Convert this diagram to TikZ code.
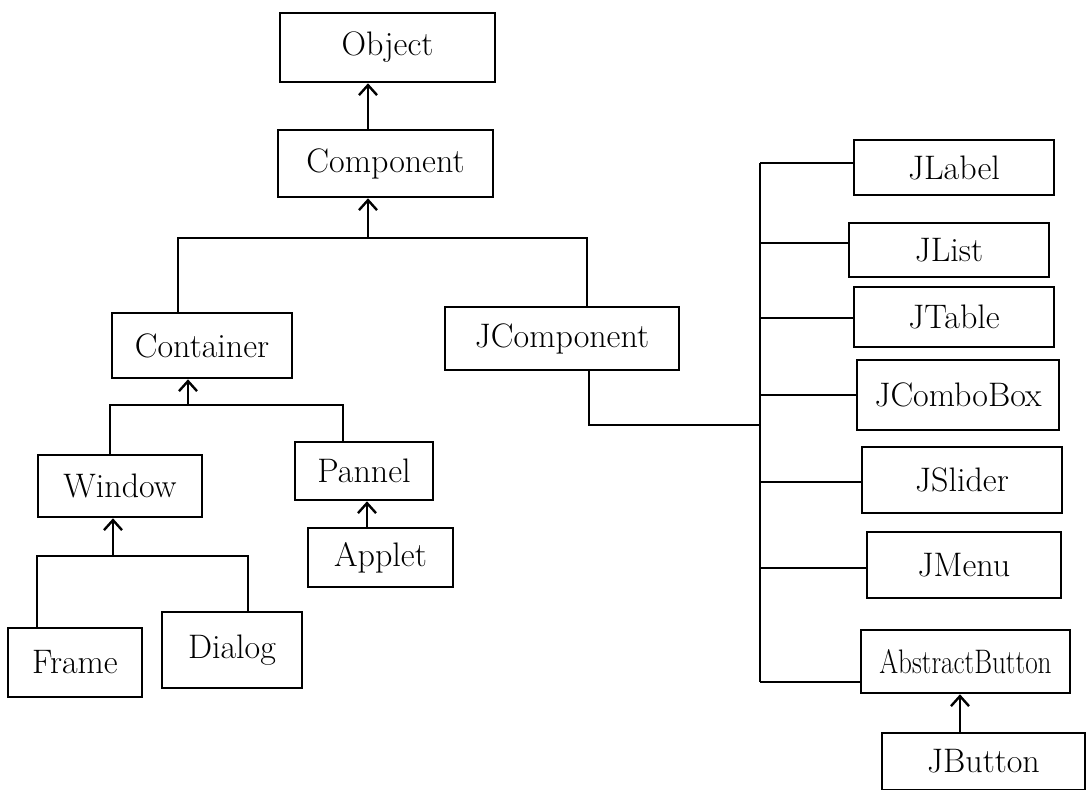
\documentclass[tikz,border=0pt]{standalone}
\usetikzlibrary{arrows.meta}
\begin{document}
\begin{tikzpicture}[x=0.5pt,y=-0.5pt,
  cls/.style={draw, line width=1.3pt, inner sep=0pt, font=\fontsize{17}{20}\selectfont},
  link/.style={line width=1.3pt},
  inh/.style={line width=1.3pt, -{Straight Barb[length=5pt,width=9pt,line width=1.2pt]}}]
\useasboundingbox (0,0) rectangle (1088,789);
\fill[white] (0,0) rectangle (1088,789);
% boxes
\node[cls, minimum width=107.5pt, minimum height=34.5pt] (Object) at (387.5,47.5) {Object};
\node[cls, minimum width=107.5pt, minimum height=33.5pt] (Component) at (385.5,163.5) {Component};
\node[cls, minimum width=90pt, minimum height=32.5pt] (Container) at (202,345.5) {Container};
\node[cls, minimum width=117pt, minimum height=31.5pt] (JComponent) at (562,338.5) {JComponent};
\node[cls, minimum width=82pt, minimum height=31pt] (Window) at (120,486) {Window};
\node[cls, minimum width=69pt, minimum height=29pt] (Pannel) at (364,471) {Pannel};
\node[cls, minimum width=72.5pt, minimum height=29.5pt] (Applet) at (380.5,557.5) {Applet};
\node[cls, minimum width=67pt, minimum height=34.5pt] (Frame) at (75,662.5) {Frame};
\node[cls, minimum width=70pt, minimum height=38pt] (Dialog) at (232,650) {Dialog};
\node[cls, minimum width=100pt, minimum height=27.5pt] (JLabel) at (954,167.5) {JLabel};
\node[cls, minimum width=100pt, minimum height=27pt] (JList) at (949,250) {JList};
\node[cls, minimum width=100pt, minimum height=30pt] (JTable) at (954,317) {JTable};
\node[cls, minimum width=101pt, minimum height=35pt] (JComboBox) at (958,395) {JComboBox};
\node[cls, minimum width=100pt, minimum height=33pt] (JSlider) at (962,480) {JSlider};
\node[cls, minimum width=97pt, minimum height=33pt] (JMenu) at (964,565) {JMenu};
\node[cls, minimum width=104.5pt, minimum height=31.5pt] (AbstractButton) at (965.5,661.5) {\scalebox{0.8}[1]{AbstractButton}};
\node[cls, minimum width=101.5pt, minimum height=28.5pt] (JButton) at (983.5,761.5) {JButton};
% junction coordinates
\coordinate (a0) at (368,0);
\coordinate (J1) at (368,238);
\coordinate (L1) at (178,238);
\coordinate (R1) at (587,238);
\coordinate (J2) at (188,405);
\coordinate (L2) at (110,405);
\coordinate (R2) at (343,405);
\coordinate (a1) at (367,0);
\coordinate (J3) at (113,556);
\coordinate (L3) at (37,556);
\coordinate (R3) at (248,556);
\coordinate (c1) at (589,425);
\coordinate (T0) at (760,425);
\coordinate (T1) at (760,163);
\coordinate (T2) at (760,243);
\coordinate (T3) at (760,318);
\coordinate (T4) at (760,395);
\coordinate (T5) at (760,482);
\coordinate (T6) at (760,568);
\coordinate (T7) at (760,682);
\coordinate (a2) at (960,0);
% inheritance arrows
\draw[inh] (Component.north -| a0) -- (Object.south -| a0);
\draw[inh] (J1) -- (Component.south -| J1);
\draw[link] (Container.north -| L1) -- (L1) -- (R1) -- (JComponent.north -| R1);
\draw[inh] (J2) -- (Container.south -| J2);
\draw[link] (Window.north -| L2) -- (L2) -- (R2) -- (Pannel.north -| R2);
\draw[inh] (Applet.north -| a1) -- (Pannel.south -| a1);
\draw[inh] (J3) -- (Window.south -| J3);
\draw[link] (Frame.north -| L3) -- (L3) -- (R3) -- (Dialog.north -| R3);
\draw[link] (JComponent.south -| c1) -- (c1) -- (T0);
\draw[link] (T1) -- (T7);
\draw[link] (T1) -- (JLabel.west |- T1);
\draw[link] (T2) -- (JList.west |- T2);
\draw[link] (T3) -- (JTable.west |- T3);
\draw[link] (T4) -- (JComboBox.west |- T4);
\draw[link] (T5) -- (JSlider.west |- T5);
\draw[link] (T6) -- (JMenu.west |- T6);
\draw[link] (T7) -- (AbstractButton.west |- T7);
\draw[inh] (JButton.north -| a2) -- (AbstractButton.south -| a2);
\end{tikzpicture}
\end{document}
